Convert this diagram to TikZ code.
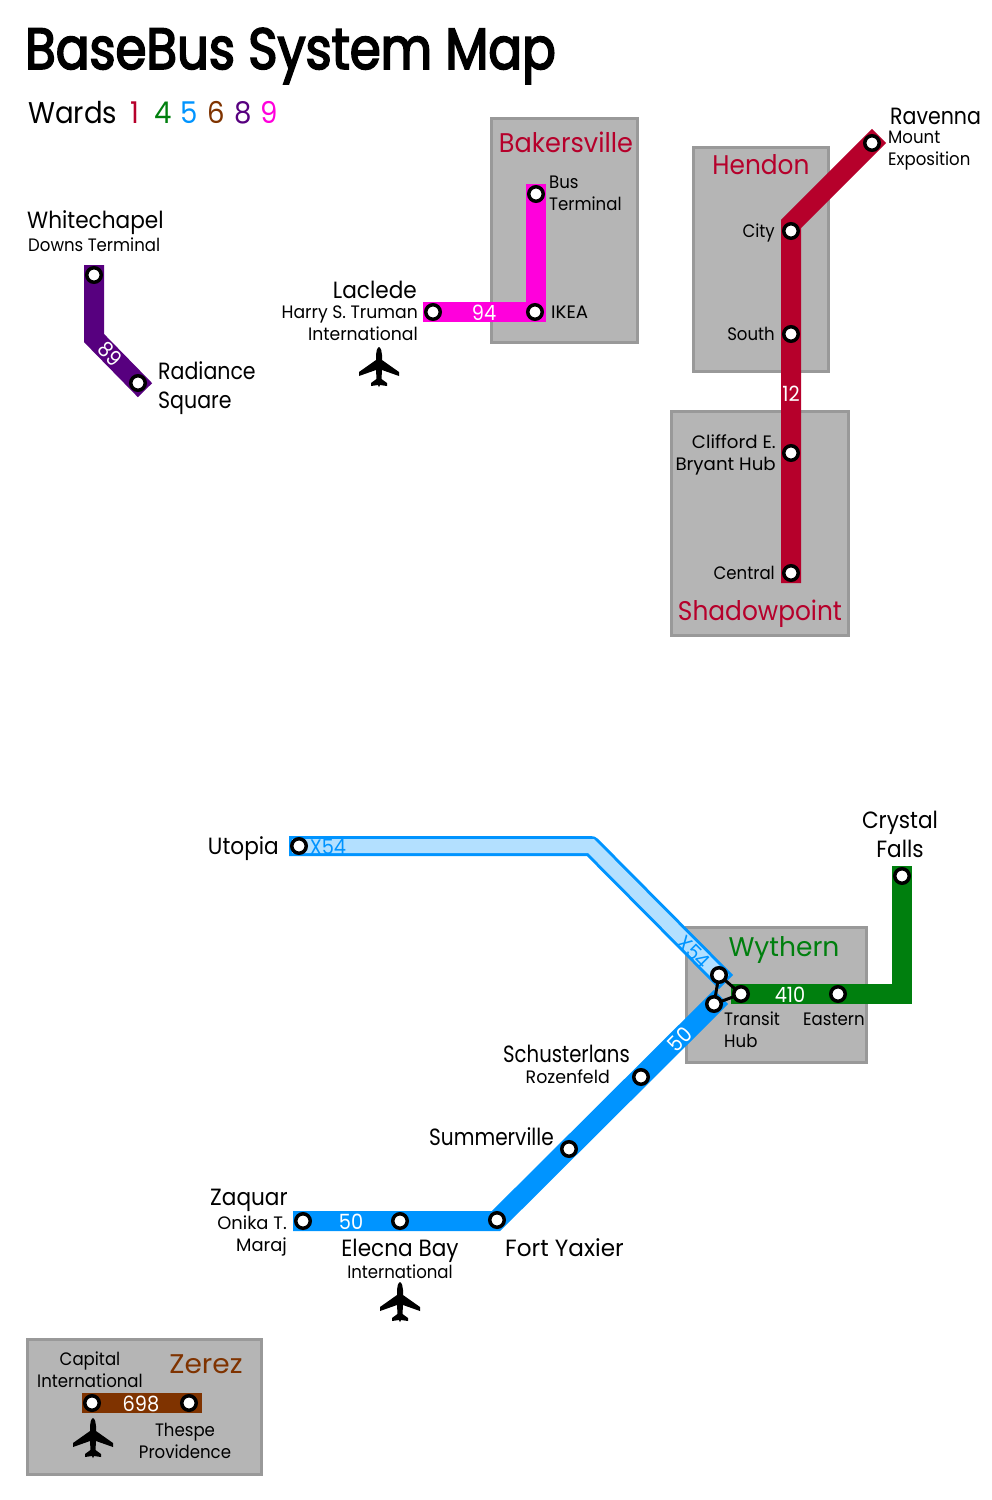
\documentclass[tikz,border=0pt]{standalone}
\usepackage{fontspec}
\setmainfont{Poppins}[FakeStretch=0.92]
\newfontfamily\titlefont{Poppins}[FakeStretch=0.86,FakeBold=3]
\usetikzlibrary{positioning}

\definecolor{wardone}{HTML}{B6002B}
\definecolor{wardfour}{HTML}{007F0E}
\definecolor{wardfive}{HTML}{0094FF}
\definecolor{wardsix}{HTML}{7F3300}
\definecolor{wardeight}{HTML}{57007F}
\definecolor{wardnine}{HTML}{FF00DC}
\definecolor{paleblue}{HTML}{B3E0FF}
\definecolor{boxgray}{HTML}{B5B5B5}
\definecolor{boxedge}{HTML}{999999}

\pgfdeclarelayer{routes}
\pgfsetlayers{routes,main}

\begin{document}
\begin{tikzpicture}[
    x=1pt, y=-1pt,
    district/.style={draw=boxedge, fill=boxgray, line width=3pt},
    route/.style={line width=20pt, line cap=rect, miter limit=10},
    link/.style={line width=3pt, black},
    station/.style={circle, draw=black, fill=white, line width=3.5pt, inner sep=0pt, minimum size=14.5pt},
    bigtext/.style={font=\fontsize{23.5}{29}\selectfont, inner sep=0pt},
    smalltext/.style={font=\fontsize{18}{22}\selectfont, inner sep=0pt},
    boxname/.style={font=\fontsize{27}{30}\selectfont, inner sep=0pt},
    linenum/.style={font=\fontsize{21}{22}\selectfont, inner sep=0pt, text=white},
    pics/plane/.style={code={
        \fill[black] (0,-20) .. controls (2,-19) and (3,-15) .. (3,-12) -- (3,-7) -- (20,5) -- (20,9)
            -- (3,3) -- (2.5,12) -- (8,16) -- (8,19) -- (1,18) -- (0,20) -- (-1,18) -- (-8,19) -- (-8,16)
            -- (-2.5,12) -- (-3,3) -- (-20,9) -- (-20,5) -- (-3,-7) -- (-3,-12) .. controls (-3,-15) and (-2,-19) .. (0,-20) -- cycle;
    }}
]
\useasboundingbox (0,0) rectangle (992,1500);

% Stations
\coordinate (purplebend) at (94,338);
\coordinate (magentabend) at (536,312);
\coordinate (redbend) at (791,224);
\coordinate (greenbend) at (902,994);
\coordinate (bluebend) at (496,1221);
\coordinate (palebend) at (591,846);
\coordinate (zerezend) at (192,1403);

\node[station] (whitechapel) at (94,275) {};
\node[station] (radiance) at (138,383) {};
\node[station] (laclede) at (433,312) {};
\node[station] (ikea) at (535,312) {};
\node[station] (busterminal) at (536,194) {};
\node[station] (ravenna) at (872,143) {};
\node[station] (city) at (791,231) {};
\node[station] (south) at (791,334) {};
\node[station] (clifford) at (791,453) {};
\node[station] (central) at (791,573) {};
\node[station] (utopia) at (299,846) {};
\node[station] (crystal) at (902,876) {};
\node[station] (hubtop) at (719,975) {};
\node[station] (hubright) at (741,994) {};
\node[station] (hubleft) at (714,1004) {};
\node[station] (eastern) at (838,994) {};
\node[station] (schusterlans) at (641,1077) {};
\node[station] (summerville) at (569,1149) {};
\node[station] (fortyaxier) at (497,1220) {};
\node[station] (elecna) at (400,1221) {};
\node[station] (zaquar) at (303,1221) {};
\node[station] (capital) at (92,1403) {};
\node[station] (thespe) at (189,1403) {};

% Districts and routes
\begin{pgfonlayer}{routes}
\draw[district] (491,118) rectangle (637,342);
\draw[district] (693,147) rectangle (828,371);
\draw[district] (671,411) rectangle (848,635);
\draw[district] (686,927) rectangle (866,1062);
\draw[district] (27,1339) rectangle (261,1474);
\draw[route, wardeight] (whitechapel.center) -- (purplebend) -- (radiance.center);
\draw[route, wardnine] (busterminal.center) -- (magentabend) -- (laclede.center);
\draw[route, wardone] (ravenna.center) -- (redbend) -- (central.center);
\draw[route, wardfive, line join=round] (utopia.center) -- (palebend) -- (hubtop.center);
\draw[line width=14pt, line cap=rect, paleblue] (utopia.center) -- (palebend) -- (hubtop.center);
\draw[route, wardfive] (zaquar.center) -- (bluebend) -- (hubleft.center);
\draw[route, wardfour] (crystal.center) -- (greenbend) -- (hubright.center);
\draw[route, wardsix] (capital.center) -- (zerezend);
\draw[link] (hubtop.center) -- (hubright.center) -- (hubleft.center) -- (hubtop.center);
\end{pgfonlayer}

% Heading
\node[anchor=west, inner sep=0pt, font=\titlefont\fontsize{58}{60}\selectfont] (heading) at (25,56) {BaseBus System Map};
\node[anchor=west, inner sep=0pt, font=\fontsize{30}{32}\selectfont] (wards) at (28,113) {Wards\hspace{6pt}
    \textcolor{wardone}{1}\hspace{8pt} \textcolor{wardfour}{4}\hspace{1pt} \textcolor{wardfive}{5}\hspace{2pt}
    \textcolor{wardsix}{6}\hspace{2pt} \textcolor{wardeight}{8}\hspace{2pt} \textcolor{wardnine}{9}};

% Route numbers
\node[linenum, rotate=-45] (numpurple) at (110,354) {89};
\node[linenum] (nummagenta) at (484,313) {94};
\node[linenum] (numred) at (791,394) {12};
\node[linenum, text=wardfive] (numpale) at (328,847) {X54};
\node[linenum, text=wardfive, rotate=-45] (numpalediag) at (694,952) {X54};
\node[linenum] (numgreen) at (790,995) {410};
\node[linenum, rotate=45] (numbluediag) at (680,1039) {50};
\node[linenum] (numblue) at (351,1222) {50};
\node[linenum] (numbrown) at (141,1404) {698};

% District names
\node[boxname, text=wardone, xscale=1.03] (bakersville) at (566,142) {Bakersville};
\node[boxname, text=wardone] (hendon) at (761,165) {Hendon};
\node[boxname, text=wardone] (shadowpoint) at (760,614) {Shadowpoint};
\node[boxname, text=wardfour, xscale=1.07] (wythern) at (784,950) {Wythern};
\node[boxname, text=wardsix, xscale=1.13] (zerez) at (206,1364) {Zerez};

% Station labels
\node[bigtext, anchor=west] (whitechapellabel) at (27,223) {Whitechapel};
\node[smalltext, anchor=west] (downslabel) at (28,245) {Downs Terminal};
\node[bigtext, anchor=west, align=left, xscale=.95, right=11pt of radiance, yshift=-5pt] (radiancelabel) {Radiance\\Square};
\node[bigtext, anchor=east] (lacledelabel) at (417,290) {Laclede};
\node[smalltext, anchor=east, align=right, xscale=1.04, left=6pt of laclede, yshift=-11pt] (trumanlabel) {Harry S. Truman\\International};
\node[smalltext, anchor=west, align=left] (buslabel) at (549,193) {Bus\\Terminal};
\node[smalltext, xscale=1.1, right=7pt of ikea] (ikealabel) {IKEA};
\node[bigtext, anchor=west, xscale=.95] (ravennalabel) at (890,116) {Ravenna};
\node[smalltext, anchor=west, align=left] (mountlabel) at (888,151) {Mount\\Exposition};
\node[smalltext, left=7pt of city, yshift=-2pt] (citylabel) {City};
\node[smalltext, left=7pt of south] (southlabel) {South};
\node[smalltext, anchor=east, align=right, xscale=1.1] (cliffordlabel) at (776,455) {Clifford E.\\Bryant Hub};
\node[smalltext, left=7pt of central] (centrallabel) {Central};
\node[bigtext, left=11pt of utopia, yshift=-3pt] (utopialabel) {Utopia};
\node[bigtext, align=center] (crystallabel) at (900,834) {Crystal\\Falls};
\node[smalltext, align=left, anchor=west] (hublabel) at (724,1030) {Transit\\Hub};
\node[smalltext, anchor=west] (easternlabel) at (803,1019) {Eastern};
\node[bigtext, anchor=east, xscale=.91] (schusterlanslabel) at (630,1054) {Schusterlans};
\node[smalltext, anchor=east, xscale=1.05] (rozenfeldlabel) at (610,1077) {Rozenfeld};
\node[bigtext, xscale=.93, left=6pt of summerville, yshift=12pt] (summervillelabel) {Summerville};
\node[bigtext, anchor=west, xscale=1.07] (fortlabel) at (505,1248) {Fort Yaxier};
\node[bigtext] (elecnalabel) at (400,1251) {Elecna Bay};
\node[smalltext] (intllabel) at (400,1272) {International};
\node[bigtext, anchor=west] (zaquarlabel) at (210,1200) {Zaquar};
\node[smalltext, anchor=east, align=right, xscale=1.08] (onikalabel) at (287,1236) {Onika T.\\Maraj};
\node[smalltext, align=center] (capitallabel) at (90,1370) {Capital\\International};
\node[smalltext, align=center] (thespelabel) at (185,1441) {Thespe\\Providence};

% Airports
\pic at (379,367) {plane};
\pic at (400,1302) {plane};
\pic at (93,1438) {plane};

\end{tikzpicture}
\end{document}
